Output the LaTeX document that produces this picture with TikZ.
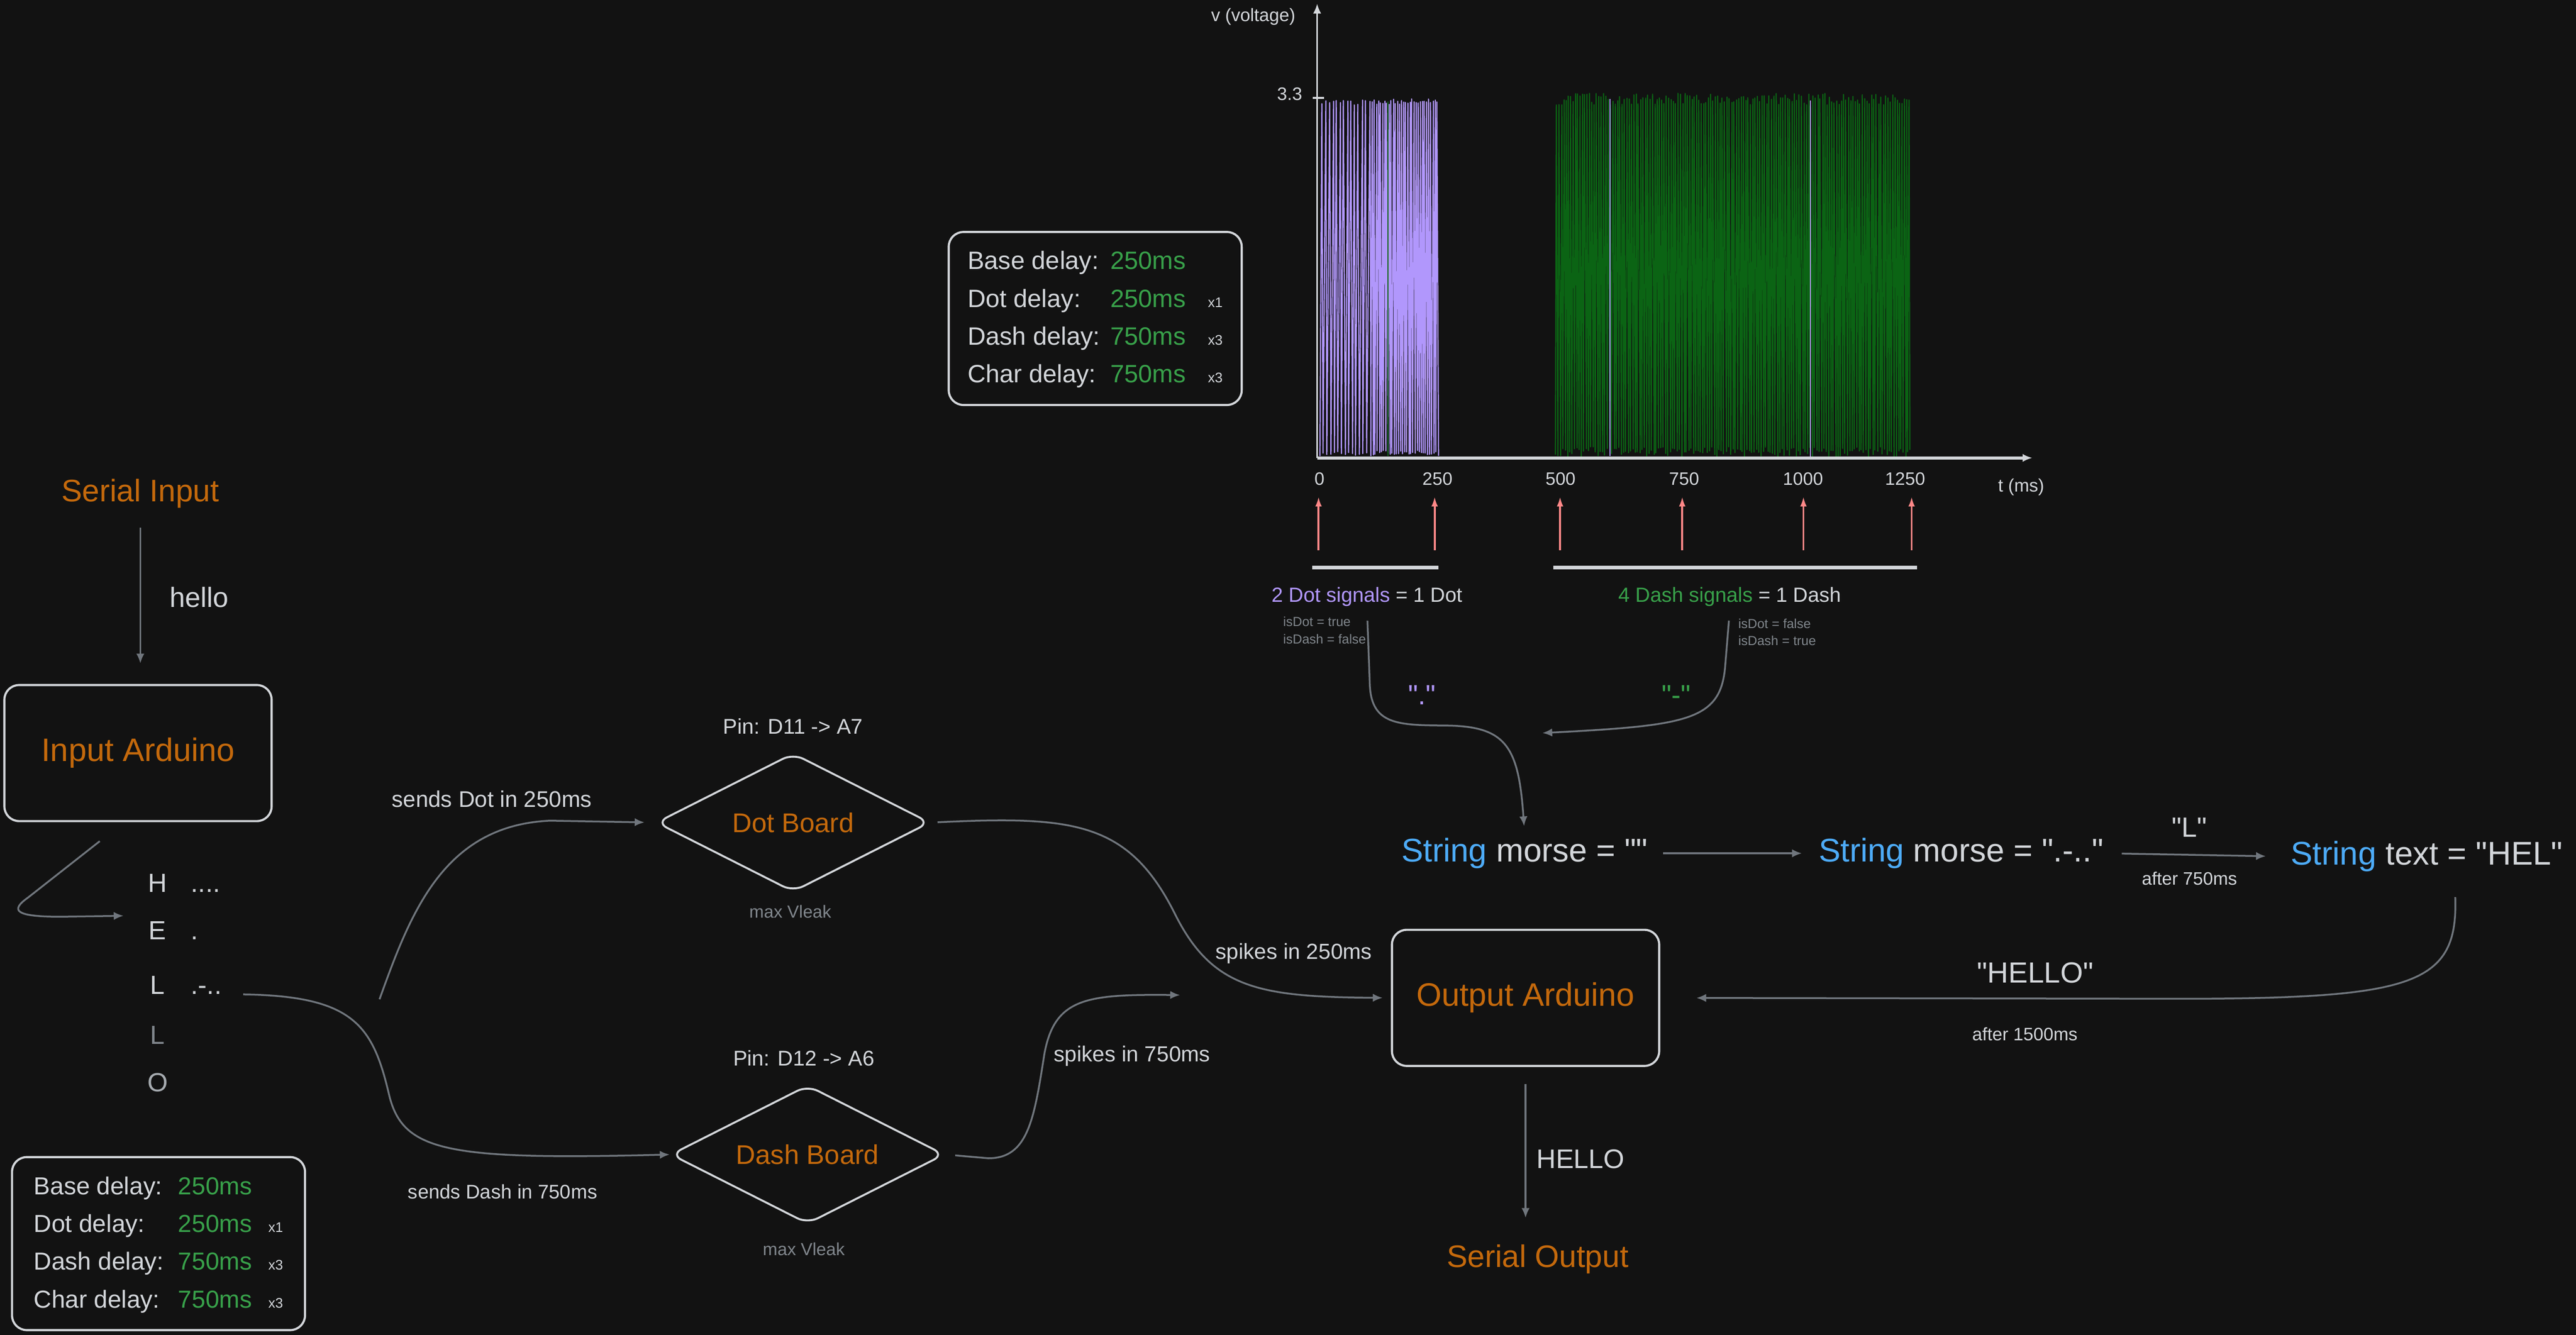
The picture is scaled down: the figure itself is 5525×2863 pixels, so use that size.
\documentclass[tikz,border=0pt]{standalone}
\usepackage{fontspec}
\setmainfont{Liberation Sans}[Ligatures=TeXOff]
\usetikzlibrary{arrows.meta,shapes.geometric,positioning}

\definecolor{bgdark}{HTML}{121212}
\definecolor{ink}{HTML}{D3D6DA}
\definecolor{wire}{HTML}{70767D}
\definecolor{rust}{HTML}{C4690C}
\definecolor{leaf}{HTML}{38A14A}
\definecolor{lilac}{HTML}{B197FC}
\definecolor{sky}{HTML}{4DABF7}
\definecolor{coral}{HTML}{FF8787}
\definecolor{moss}{HTML}{0B6414}
\definecolor{dim}{HTML}{80868C}
\definecolor{mid}{HTML}{A6ABB0}

\tikzset{
  txt/.style={text=ink, inner sep=2pt},
  orangetitle/.style={text=rust, inner sep=2pt, font=\fontsize{19}{23}\selectfont},
  arduinobox/.style={draw=ink, line width=1.3pt, rounded corners=9pt, text=rust,
    minimum width=163pt, minimum height=83pt, font=\fontsize{19.8}{24}\selectfont},
  boardnode/.style={diamond, aspect=2, draw=ink, line width=1.2pt, rounded corners=7pt,
    text=rust, minimum width=167pt, minimum height=84.5pt, font=\fontsize{16.5}{20}\selectfont},
  delaybox/.style={draw=ink, line width=1.3pt, rounded corners=9pt, text=ink,
    minimum width=178.7pt, minimum height=105.5pt, font=\fontsize{15}{23}\selectfont},
  wirearrow/.style={draw=wire, line width=1.1pt, -{Latex[length=6pt,width=5pt]}},
  pulse/.style={draw=coral, line width=1.2pt, -{Latex[length=6pt,width=4pt]}},
  axisline/.style={draw=ink, -{Latex[length=6pt,width=5pt]}},
  brace/.style={draw=ink, line width=2.3pt},
  dotwave/.style={draw=lilac, line width=0.7pt, line join=round},
  dashwave/.style={draw=moss, line width=0.7pt, line join=round},
  ticklbl/.style={text=ink, inner sep=2pt, font=\fontsize{11}{13}\selectfont},
  codeline/.style={text=ink, inner sep=2pt, font=\fontsize{20}{24}\selectfont},
  letter/.style={text=ink, inner sep=2pt, anchor=base, font=\fontsize{16}{19}\selectfont},
  morsecode/.style={text=ink, inner sep=2pt, anchor=base west, font=\fontsize{16}{19}\selectfont},
  leak/.style={text=dim, inner sep=2pt, font=\fontsize{10.7}{13}\selectfont},
  flags/.style={text=dim, inner sep=1pt, align=left, anchor=west, font=\fontsize{8}{10.5}\selectfont}
}

\begin{document}
\begin{tikzpicture}[x=0.01cm,y=-0.01cm]

  \useasboundingbox (0,0) rectangle (5525,2863);
  \fill[bgdark] (0,0) rectangle (5525,2863);



  \node[orangetitle] (serin) at (301,1058) {Serial Input};
  \node[arduinobox] (inard) at (296,1615) {Input Arduino};
  \node[txt, font=\fontsize{17}{20}\selectfont] (hellolbl) at (427,1281) {hello};

  \draw[wirearrow, shorten <=10pt, shorten >=12.5pt] (serin.south) -- (serin.south |- inard.north);

  \node[letter] (letH) at (338,1913) {H};
  \node[morsecode] (codeH) at (402,1913) {....};
  \node[letter] (letE) at (338,2015) {E};
  \node[morsecode] (codeE) at (402,2015) {.};
  \node[letter] (letL) at (338,2132) {L};
  \node[morsecode] (codeL) at (402,2132) {.-..};
  \node[letter, text=dim] (letLL) at (338,2239) {L};
  \node[letter, text=mid] (letO) at (338,2341) {O};

  \coordinate (hookstart) at (214,1804);
  \coordinate (hooktip) at (265,1964);
  \draw[wirearrow] (hookstart) -- (60,1925) .. controls (22,1952) and (30,1966) .. (130,1966) -- (hooktip);



  \node[delaybox] (delaysB) at (340,2667) {%
    \begin{tabular}{@{}p{88pt}@{}p{55pt}@{}l@{}}
      Base delay: & \textcolor{leaf}{250ms} & \\
      Dot delay:  & \textcolor{leaf}{250ms} & {\fontsize{8.5}{10}\selectfont x1} \\
      Dash delay: & \textcolor{leaf}{750ms} & {\fontsize{8.5}{10}\selectfont x3} \\
      Char delay: & \textcolor{leaf}{750ms} & {\fontsize{8.5}{10}\selectfont x3}
    \end{tabular}};



  \node[boardnode] (dotb) at (1701,1764) {Dot Board};
  \node[txt, font=\fontsize{13}{16}\selectfont] (dotpin) at (1701,1557) {Pin: D11 -> A7};
  \node[leak] (dotleak) at (1695,1955) {max Vleak};

  \node[boardnode] (dashb) at (1732,2476) {Dash Board};
  \node[txt, font=\fontsize{13}{16}\selectfont] (dashpin) at (1724,2269) {Pin: D12 -> A6};
  \node[leak] (dashleak) at (1724,2679) {max Vleak};

  \node[txt, font=\fontsize{13.8}{17}\selectfont] (sendsdot) at (1055,1714) {sends Dot in 250ms};
  \node[txt, font=\fontsize{12}{15}\selectfont] (sendsdash) at (1078,2556) {sends Dash in 750ms};

  \coordinate (dotsrc) at (814,2143);
  \draw[wirearrow, shorten >=6.5pt] (dotsrc) .. controls (880,1960) and (950,1770) .. (1180,1760) -- (dotb.west);
  \draw[wirearrow, shorten <=11pt] (codeL.base east) .. controls (760,2136) and (800,2200) .. (835,2350)
    .. controls (865,2470) and (960,2488) .. (dashb.west);



  \node[arduinobox] (outard) at (3272,2140) {Output Arduino};
  \node[orangetitle] (serout) at (3298,2700) {Serial Output};
  \node[txt, font=\fontsize{16.4}{20}\selectfont] (hellout) at (3390,2486) {HELLO};

  \node[txt, font=\fontsize{13.3}{16}\selectfont] (spike250) at (2775,2045) {spikes in 250ms};
  \node[txt, font=\fontsize{13.3}{16}\selectfont] (spike750) at (2428,2265) {spikes in 750ms};

  \coordinate (dashtip) at (2531,2134);
  \draw[wirearrow, shorten <=4pt, shorten >=5pt] (dotb.east) .. controls (2300,1750) and (2420,1760) .. (2520,1960)
    .. controls (2600,2120) and (2700,2138) .. (outard.west);
  \draw[wirearrow, shorten <=6pt] (dashb.east) -- (2120,2484) .. controls (2205,2484) and (2218,2400) .. (2240,2260)
    .. controls (2262,2140) and (2330,2132) .. (dashtip);

  \draw[wirearrow, shorten <=10.5pt, shorten >=14pt] (outard.south) -- (outard.south |- serout.north);



  \node[codeline] (morse0) at (3270,1830) {\textcolor{sky}{String} morse = ""};
  \node[codeline] (morse1) at (4206,1830) {\textcolor{sky}{String} morse = ".-.."};
  \node[codeline] (textn) at (5205,1837) {\textcolor{sky}{String} text = "HEL"};

  \node[txt, font=\fontsize{17}{20}\selectfont] (lblL) at (4696,1774) {"L"};
  \node[txt, font=\fontsize{11}{13}\selectfont] (lbl750) at (4696,1884) {after 750ms};
  \node[txt, font=\fontsize{17.8}{21}\selectfont] (lblhello) at (4365,2086) {"HELLO"};
  \node[txt, font=\fontsize{11}{13}\selectfont] (lbl1500) at (4343,2218) {after 1500ms};

  \draw[wirearrow, shorten <=7pt, shorten >=8pt] (morse0.east) -- (morse1.west);
  \draw[wirearrow, shorten <=9pt, shorten >=13pt] (morse1.east) -- (textn.west);

  \coordinate (helstart) at (5266,1924);
  \draw[wirearrow, shorten >=22pt] (helstart) .. controls (5272,2110) and (5180,2140) .. (4700,2142) -- (outard.east);



  \node[txt, font=\fontsize{12.5}{15}\selectfont] (dotsig) at (2932,1280) {\textcolor{lilac}{2 Dot signals} = 1 Dot};
  \node[txt, font=\fontsize{12.5}{15}\selectfont] (dashsig) at (3710,1280) {\textcolor{leaf}{4 Dash signals} = 1 Dash};
  \node[flags] (dotflags) at (2748,1352) {isDot = true\\isDash = false};
  \node[flags] (dashflags) at (3724,1356) {isDot = false\\isDash = true};

  \node[txt, text=lilac, font=\fontsize{17}{20}\selectfont] (dotq) at (3050,1490) {"."};
  \node[txt, text=leaf, font=\fontsize{17}{20}\selectfont] (dashq) at (3595,1490) {"-"};

  \coordinate (mergetip) at (3308,1572);
  \draw[wirearrow, shorten <=6.5pt, shorten >=5pt] (dotsig.south) -- (2938,1470) .. controls (2942,1555) and (3000,1555) .. (3100,1556)
    .. controls (3230,1557) and (3257,1600) .. (morse0.north);
  \draw[wirearrow, shorten <=6.5pt] (dashsig.south) -- (3700,1430) .. controls (3690,1545) and (3620,1556) .. (mergetip);



  \node[delaybox, font=\fontsize{15.3}{23}\selectfont] (delaysT) at (2349,683) {%
    \begin{tabular}{@{}p{87pt}@{}p{59.5pt}@{}l@{}}
      Base delay: & \textcolor{leaf}{250ms} & \\
      Dot delay:  & \textcolor{leaf}{250ms} & {\fontsize{8.5}{10}\selectfont x1} \\
      Dash delay: & \textcolor{leaf}{750ms} & {\fontsize{8.5}{10}\selectfont x3} \\
      Char delay: & \textcolor{leaf}{750ms} & {\fontsize{8.5}{10}\selectfont x3}
    \end{tabular}};

  \pgfmathsetseed{11}
  \draw[dotwave] (2831,978)
    \foreach \k in {0,...,13} {-- ({2834+7.8*\k+3*rnd},{214+12*rnd}) -- ({2837+7.8*\k+3*rnd},{968+10*rnd})};
  \draw[dotwave] (2940,978)
    \foreach \k in {0,...,31} {-- ({2942+4.5*\k+2*rnd},{212+12*rnd}) -- ({2944+4.5*\k+2*rnd},{966+12*rnd})};
  \draw[dashwave] (3336,975)
    \foreach \k in {0,...,151} {-- ({3338+5*\k+2*rnd},{200+25*rnd}) -- ({3341+5*\k+2*rnd},{958+22*rnd})};
  \draw[dashwave] (2977,218) -- (2977,978);
  \draw[dotwave] (3453,212) -- (3453,978);
  \draw[dotwave] (3883,215) -- (3883,985);

  \draw[axisline, line width=1pt] (2825,982) -- (2825,8);
  \draw[axisline, line width=1.8pt] (2825,982) -- (4359,982);
  \draw[draw=ink, line width=1pt] (2815,210) -- (2840,210);

  \node[ticklbl] (vlabel) at (2688,36) {v (voltage)};
  \node[ticklbl] (vmax) at (2766,202) {3.3};
  \node[ticklbl] (tlabel) at (4335,1045) {t (ms)};

  \foreach \xx/\lbl in {2830/0, 3083/250, 3347/500, 3612/750, 3867/1000, 4086/1250}
    \node[ticklbl] (tick\lbl) at (\xx,1027) {\lbl};

  \foreach \xx in {2828,3077,3346,3608,3868,4100}
    \draw[pulse] (\xx,1180) -- (\xx,1065);

  \draw[brace] (2814,1217) -- (3085,1217);
  \draw[brace] (3332,1217) -- (4112,1217);

\end{tikzpicture}
\end{document}
